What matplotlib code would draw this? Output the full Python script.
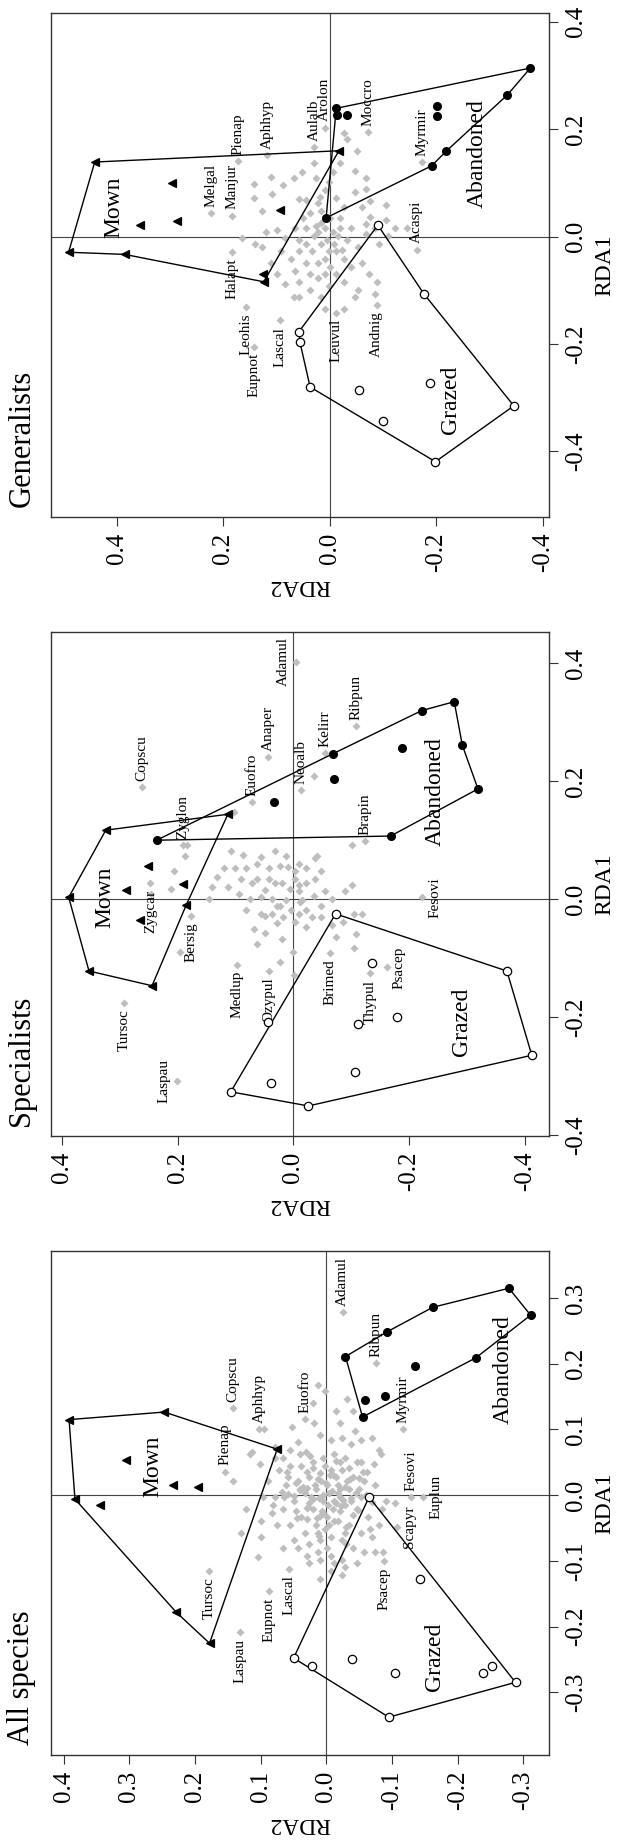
import matplotlib.pyplot as plt
from matplotlib.patches import Polygon

plt.rcParams['font.family'] = ['Liberation Serif', 'DejaVu Serif']
plt.rcParams['axes.unicode_minus'] = False

# ---------------- Generalists ----------------
gen_sp_rda1 = [0.099, 0.072, 0.112, 0.079, 0.096, 0.120, 0.071, 0.109, 0.062, 0.086,
               0.072, 0.055, 0.123, 0.109, 0.159, 0.182, 0.089, 0.067, 0.059, 0.031,
               0.037, 0.016, 0.001, 0.016, 0.016, -0.013, 0.005, -0.020, -0.049, -0.070,
               -0.084, -0.106, -0.099, -0.113, -0.135, -0.135, -0.113, -0.099, -0.084, -0.113,
               -0.088, -0.070, -0.049, -0.020, -0.013, 0.012, -0.002, 0.016, 0.034, 0.044,
               0.048, 0.016, 0.009, 0.016, -0.006, 0.016, -0.013, 0.001, -0.013, -0.027,
               -0.042, -0.049, -0.049, -0.027, -0.027, -0.042, -0.056, -0.070, -0.070, -0.077,
               -0.092, -0.084, -0.070, -0.063, -0.027, 0.009, 0.016, 0.019, -0.013, -0.024,
               -0.042, -0.027, -0.006, 0.073, 0.069, 0.102, -0.002, 0.048, 0.109, 0.137,
               0.120, 0.084, 0.055, 0.193, 0.137, 0.034, 0.026, 0.034, 0.009, -0.006,
               0.001, -0.056, -0.113, 0.023]
gen_sp_rda2 = [0.142, 0.142, 0.110, 0.108, 0.088, 0.053, 0.058, 0.026, 0.022, 0.009,
               -0.012, -0.026, -0.047, -0.067, -0.050, -0.033, -0.067, -0.076, -0.106, -0.106,
               -0.076, -0.085, -0.109, -0.123, -0.144, -0.092, -0.067, -0.053, -0.060, -0.074,
               -0.088, -0.085, -0.053, -0.047, -0.026, 0.009, 0.016, 0.037, 0.058, 0.068,
               0.085, 0.099, 0.110, 0.127, 0.141, 0.099, 0.085, 0.065, 0.051, 0.037,
               0.016, 0.009, -0.005, -0.019, -0.033, -0.040, 0.016, 0.030, 0.044, 0.058,
               0.072, 0.044, 0.023, 0.002, -0.012, -0.026, -0.040, -0.012, 0.009, 0.023,
               0.002, -0.026, 0.037, 0.065, 0.092, 0.120, 0.044, 0.026, -0.008, -0.022,
               0.009, 0.033, 0.058, 0.019, 0.044, 0.002, 0.165, 0.127, 0.068, -0.019,
               -0.005, -0.047, -0.060, -0.026, 0.030, -0.001, 0.016, -0.019, 0.023, 0.006,
               -0.015, -0.001, 0.058, -0.067]

gen_lab_names = ['Pienap', 'Aphhyp', 'Aulalb', 'Arolon', 'Moccro', 'Myrmir', 'Melgal', 'Manjur',
                 'Halapt', 'Leohis', 'Eupnot', 'Lascal', 'Leuvul', 'Andnig', 'Acaspi']
gen_lab_rda1 = [0.141, 0.152, 0.167, 0.203, 0.195, 0.139, 0.044, 0.039,
                -0.029, -0.131, -0.205, -0.156, -0.142, -0.127, -0.024]
gen_lab_rda2 = [0.172, 0.117, 0.030, 0.010, -0.071, -0.172, 0.223, 0.184,
                0.184, 0.157, 0.142, 0.094, -0.012, -0.088, -0.1625]
gen_lab_pos = [4, 4, 4, 4, 4, 4, 4, 4, 2, 2, 2, 2, 2, 2, 4]

# sites; hull vertices come first, in drawing order
gen_mown_rda1 = [0.139, -0.029, -0.033, -0.084, 0.160, -0.069, 0.100, 0.030, 0.021, 0.050]
gen_mown_rda2 = [0.441, 0.490, 0.385, 0.124, -0.017, 0.125, 0.297, 0.287, 0.356, 0.094]
gen_mown_nhull = 5
gen_aban_rda1 = [0.239, 0.314, 0.264, 0.159, 0.132, 0.035, 0.227, 0.227, 0.243, 0.225]
gen_aban_rda2 = [-0.012, -0.376, -0.333, -0.218, -0.191, 0.007, -0.014, -0.033, -0.201, -0.201]
gen_aban_nhull = 6
gen_graz_rda1 = [0.0215, -0.106, -0.315, -0.419, -0.280, -0.197, -0.177, -0.286, -0.343, -0.272]
gen_graz_rda2 = [-0.090, -0.176, -0.345, -0.198, 0.037, 0.056, 0.058, -0.055, -0.099, -0.1875]
gen_graz_nhull = 7

# ---------------- Specialists ----------------
spec_sp_rda1 = [0.081, 0.075, 0.072, 0.081, 0.074, 0.048, 0.034, 0.055, 0.057, 0.053,
                0.060, 0.053, 0.053, 0.053, 0.037, 0.021, 0.021, 0.008, 0.000, 0.003,
                0.016, 0.027, 0.027, 0.018, 0.014, 0.027, 0.034, 0.047, 0.070, 0.074,
                0.024, -0.002, -0.018, -0.012, 0.001, 0.013, 0.024, -0.047, -0.038, -0.031,
                -0.025, -0.025, -0.051, -0.057, -0.067, 0.001, -0.002, -0.012, -0.041, -0.018,
                -0.025, -0.031, -0.031, -0.044, -0.064, -0.038, -0.025, -0.025, -0.060, -0.083,
                0.092, 0.027, 0.034, 0.001, -0.077, -0.106, -0.090, -0.129, 0.148, 0.092,
                0.047, 0.018, 0.073, -0.090, 0.008, 0.209, 0.060, 0.053, 0.034, 0.034,
                -0.012, -0.005, 0.005, 0.014, -0.018, -0.028]
spec_sp_rda2 = [0.108, 0.087, 0.055, 0.032, 0.012, -0.003, -0.003, 0.009, 0.023, 0.042,
                0.062, 0.081, 0.100, 0.119, 0.132, 0.140, 0.113, 0.094, 0.074, 0.055,
                0.049, 0.032, 0.019, 0.005, -0.009, -0.022, -0.038, -0.047, -0.038, -0.041,
                -0.009, -0.015, -0.022, -0.047, -0.067, -0.089, -0.102, -0.022, -0.003, 0.017,
                0.036, 0.055, 0.068, 0.049, 0.020, 0.036, 0.013, 0.023, 0.029, 0.004,
                -0.009, -0.033, -0.047, -0.067, -0.073, -0.086, -0.105, -0.118, -0.108, -0.105,
                -0.102, 0.071, 0.090, 0.145, 0.062, 0.023, 0.001, -0.001, 0.103, 0.183,
                0.206, 0.212, 0.187, 0.196, 0.246, -0.035, -0.009, -0.022, 0.042, 0.062,
                0.029, -0.012, -0.035, -0.054, 0.081, 0.049]

spec_lab_names = ['Adamul', 'Ribpun', 'Kelirr', 'Anaper', 'Neoalb', 'Euofro', 'Copscu', 'Zyglon',
                  'Brapin', 'Zygcar', 'Bersig', 'Tursoc', 'Laspau', 'Medlup', 'Ozypul', 'Brimed',
                  'Thypul', 'Psacep', 'Fesovi']
spec_lab_rda1 = [0.403, 0.294, 0.248, 0.241, 0.185, 0.165, 0.190, 0.091,
                 0.098, 0.027, -0.029, -0.176, -0.308, -0.111, -0.122, -0.091,
                 -0.126, -0.116, 0.003]
spec_lab_rda2 = [-0.0045, -0.109, -0.054, 0.044, -0.013, 0.071, 0.262, 0.191,
                 -0.124, 0.247, 0.176, 0.292, 0.201, 0.097, 0.042, -0.063,
                 -0.133, -0.161, -0.222]
spec_lab_pos = [3, 4, 4, 4, 4, 4, 4, 4, 4, 2, 2, 2, 3, 2, 2, 2, 2, 1, 1]

spec_mown_rda1 = [0.117, 0.003, -0.122, -0.147, -0.010, 0.144, 0.057, 0.016, 0.025, -0.036]
spec_mown_rda2 = [0.324, 0.388, 0.353, 0.244, 0.185, 0.113, 0.251, 0.289, 0.190, 0.265]
spec_mown_nhull = 6
spec_aban_rda1 = [0.100, 0.247, 0.320, 0.335, 0.261, 0.187, 0.107, 0.203, 0.257, 0.164]
spec_aban_rda2 = [0.236, -0.069, -0.222, -0.278, -0.292, -0.319, -0.168, -0.071, -0.188, 0.033]
spec_aban_nhull = 7
spec_graz_rda1 = [-0.025, -0.122, -0.265, -0.351, -0.327, -0.312, -0.109, -0.200, -0.212, -0.293, -0.208]
spec_graz_rda2 = [-0.073, -0.369, -0.412, -0.026, 0.108, 0.039, -0.136, -0.179, -0.112, -0.107, 0.044]
spec_graz_nhull = 5

# ---------------- All species ----------------
all_sp_rda1 = [0.167, 0.140, 0.128, 0.146, 0.128, 0.103, 0.101, 0.066, 0.048, 0.073,
               0.057, 0.081, 0.066, 0.092, 0.084, 0.087, 0.078, 0.084, 0.069, 0.063,
               0.048, 0.051, 0.057, 0.063, 0.057, 0.051, 0.045, 0.045, 0.039, 0.021,
               -0.003, -0.003, 0.015, 0.021, 0.027, 0.033, 0.039, 0.039, 0.027, 0.021,
               0.015, -0.003, -0.003, 0.009, 0.015, 0.015, 0.009, 0.003, -0.009, -0.021,
               -0.027, -0.039, -0.045, -0.045, -0.033, -0.021, -0.009, -0.009, -0.015, -0.021,
               -0.033, -0.045, -0.063, -0.057, -0.045, -0.039, -0.033, -0.045, -0.057, -0.069,
               -0.081, -0.081, -0.075, -0.069, -0.063, -0.069, -0.081, -0.087, -0.087, -0.104,
               -0.098, -0.092, -0.098, -0.104, -0.116, -0.122, -0.128, -0.063, -0.094, 0.063,
               0.069, 0.110, 0.110, 0.051, -0.009, -0.012, 0.087, 0.098, 0.036, 0.024,
               0.003, -0.003, -0.021, -0.024, -0.003, 0.009, 0.027, 0.063, 0.045, 0.027,
               0.021, 0.009, -0.009, -0.024, -0.045, -0.057, -0.036, -0.024, -0.003, -0.015,
               -0.087, -0.092, -0.057, -0.104, -0.110, -0.081, -0.021, -0.087, -0.051, 0.057,
               -0.021, -0.057, 0.158, 0.042, 0.021,
               0.000, 0.006, -0.004, -0.015, 0.016, 0.004, 0.021, -0.008, -0.012, 0.030,
               0.012, -0.030, -0.035, 0.035, 0.035, 0.050, -0.035, 0.000, 0.005, -0.075,
               0.010, -0.006, 0.024, -0.020, 0.003, -0.027, 0.018, -0.012, 0.030, -0.040,
               0.042, -0.048, 0.008, -0.002, 0.013, -0.018, 0.026, -0.031, 0.036, -0.052,
               0.052, -0.062, 0.060, -0.010, 0.002, -0.023, 0.019, -0.005, 0.011, -0.016]
all_sp_rda2 = [0.013, 0.021, -0.014, -0.032, -0.041, 0.052, 0.095, 0.113, 0.101, 0.078,
               0.066, 0.044, 0.031, 0.010, -0.007, -0.024, -0.038, -0.052, -0.080, -0.083,
               -0.072, -0.046, -0.029, -0.012, 0.005, 0.021, 0.038, 0.055, 0.072, 0.089,
               0.097, 0.078, 0.061, 0.044, 0.027, 0.010, -0.007, -0.024, -0.041, -0.057,
               -0.074, -0.066, -0.052, -0.035, -0.018, -0.001, 0.016, 0.033, 0.050, 0.066,
               0.083, 0.100, 0.075, 0.055, 0.038, 0.021, 0.005, -0.012, -0.029, -0.046,
               -0.063, -0.080, -0.069, -0.052, -0.035, -0.018, -0.001, 0.016, 0.033, 0.050,
               0.066, 0.044, 0.027, 0.010, -0.007, -0.024, -0.041, -0.057, -0.074, -0.046,
               -0.024, -0.007, 0.010, 0.027, -0.007, -0.024, 0.010, 0.100, 0.104, 0.117,
               0.055, 0.019, -0.021, -0.052, -0.091, -0.105, -0.069, -0.043, 0.030, 0.013,
               -0.004, -0.021, -0.010, 0.007, 0.024, 0.041, 0.058, 0.041, 0.002, -0.015,
               -0.032, -0.049, -0.038, -0.021, -0.004, 0.013, 0.030, 0.047, 0.064, 0.081,
               0.013, 0.030, -0.029, -0.012, -0.029, -0.001, -0.084, -0.086, -0.066, 0.078,
               0.123, 0.130, 0.002, -0.035, 0.142,
               0.005, -0.008, 0.012, -0.003, 0.018, -0.017, 0.008, -0.026, 0.026, -0.010,
               0.035, -0.040, 0.045, -0.055, 0.060, -0.020, 0.015, -0.060, 0.068, -0.030,
               -0.020, 0.020, -0.036, 0.030, -0.045, 0.005, 0.000, -0.015, -0.005, -0.012,
               0.020, -0.030, 0.040, 0.050, -0.028, 0.028, -0.050, 0.010, -0.062, 0.002,
               -0.015, 0.012, 0.025, -0.070, 0.058, -0.048, 0.046, -0.038, 0.030, -0.022]

all_lab_names = ['Adamul', 'Ribpun', 'Myrmir', 'Copscu', 'Aphhyp', 'Euofro', 'Pienap', 'Tursoc',
                 'Laspau', 'Eupnot', 'Lascal', 'Psacep', 'Scapyr', 'Fesovi', 'Euplun']
all_lab_rda1 = [0.279, 0.201, 0.101, 0.133, 0.101, 0.116, 0.036, -0.116,
                -0.209, -0.146, -0.113, -0.101, -0.048, -0.003, -0.003]
all_lab_rda2 = [-0.025, -0.0755, -0.1165, 0.1425, 0.102, 0.033, 0.155, 0.179,
                0.132, 0.088, 0.057, -0.088, -0.107, -0.1295, -0.1475]
all_lab_pos = [4, 4, 4, 4, 4, 4, 4, 2, 2, 2, 2, 2, 1, 4, 1]

all_mown_rda1 = [0.115, 0.1265, 0.070, -0.2255, -0.178, -0.006, 0.054, 0.015, 0.012, -0.015]
all_mown_rda2 = [0.392, 0.247, 0.075, 0.178, 0.229, 0.383, 0.306, 0.233, 0.195, 0.345]
all_mown_nhull = 6
all_aban_rda1 = [0.211, 0.249, 0.286, 0.315, 0.274, 0.209, 0.119, 0.197, 0.151, 0.145]
all_aban_rda2 = [-0.029, -0.093, -0.162, -0.278, -0.311, -0.2275, -0.055, -0.135, -0.0895, -0.058]
all_aban_nhull = 7
all_graz_rda1 = [-0.003, -0.285, -0.338, -0.248, -0.260, -0.249, -0.2715, -0.128, -0.2715, -0.2595]
all_graz_rda2 = [-0.065, -0.288, -0.095, 0.050, 0.0225, -0.039, -0.105, -0.142, -0.238, -0.252]
all_graz_nhull = 4

group_names = ['Mown', 'Abandoned', 'Grazed']
gen_group_xy = [(0.055, 0.406), (0.154, -0.276), (-0.303, -0.227)]
spec_group_xy = [(0.003, 0.326), (0.182, -0.245), (-0.208, -0.291)]
all_group_xy = [(0.044, 0.265), (0.191, -0.269), (-0.246, -0.164)]

GREY = '#bebebe'
FRAME = '#333333'
W, H = 619, 1841


def label_species(ax, names, rda1, rda2, pos):
    # R text(pos=) placement, turned a quarter to the left
    off = 4.5
    place = {1: ((off, 0), 'left', 'center'),
             2: ((0, -off), 'center', 'top'),
             3: ((-off, 0), 'right', 'center'),
             4: ((0, off), 'center', 'bottom')}
    for name, r1, r2, p in zip(names, rda1, rda2, pos):
        xytext, ha, va = place[p]
        ax.annotate(name, (r2, r1), xytext=xytext, textcoords='offset points',
                    rotation=90, ha=ha, va=va, fontsize=11)


def draw_panel(top, title, sp1, sp2, labels, groups, group_xy, xlim, ylim, xticks, yticks):
    box_h = 504
    ax = fig.add_axes([51 / W, (H - top - box_h) / H, 498 / W, box_h / H])
    ax.axhline(0, color='#444444', lw=0.8, zorder=1)
    ax.axvline(0, color='#444444', lw=0.8, zorder=1)

    names, l1, l2, lpos = labels
    ax.plot(list(sp2) + list(l2), list(sp1) + list(l1), 'D', ms=3.8, color=GREY,
            mec='none', zorder=2)
    label_species(ax, names, l1, l2, lpos)

    for (g1, g2, nh), (marker, face, ms) in zip(groups, [('<', 'black', 6.0),
                                                        ('o', 'black', 5.6),
                                                        ('o', 'white', 6.0)]):
        ring = list(zip(g2[:nh], g1[:nh]))
        ax.add_patch(Polygon(ring, closed=True, fill=False, ec='black', lw=1.0, zorder=3))
        ax.plot(g2, g1, marker, ms=ms, mfc=face, mec='black', mew=0.9, ls='none', zorder=4)

    for name, (r1, r2) in zip(group_names, group_xy):
        ax.text(r2, r1, name, rotation=90, ha='center', va='center', fontsize=17)

    ax.set_xlim(xlim)
    ax.set_ylim(ylim)
    ax.set_xticks(xticks)
    ax.set_xticklabels(['%.1f' % t for t in xticks])
    ax.yaxis.tick_right()
    ax.set_yticks(yticks)
    ax.set_yticklabels(['%.1f' % t for t in yticks])
    ax.tick_params(axis='x', direction='out', length=6.5, width=0.8, pad=5,
                   labelsize=18, labelrotation=90, color=FRAME)
    ax.tick_params(axis='y', direction='out', length=6.5, width=0.8, pad=5,
                   labelsize=18, labelrotation=90, color=FRAME)
    for lbl in ax.get_yticklabels():
        lbl.set_va('center')
    for sp in ax.spines.values():
        sp.set_color(FRAME)
        sp.set_linewidth(1.0)

    ax.annotate('RDA2', (0.5, 0), xycoords='axes fraction', xytext=(0, -49),
                textcoords='offset points', rotation=180, ha='center', va='center',
                fontsize=17)
    ax.annotate('RDA1', (1, 0.5), xycoords='axes fraction', xytext=(40, 0),
                textcoords='offset points', rotation=90, ha='center', va='center',
                fontsize=17)
    fig.text(22 / W, (H - (top + box_h - 10)) / H, title, rotation=90,
             ha='center', va='bottom', fontsize=22)
    return ax


fig = plt.figure(figsize=(W / 100, H / 100), dpi=100)

ticks_wide = [0.4, 0.2, 0.0, -0.2, -0.4]

draw_panel(13, 'Generalists', gen_sp_rda1, gen_sp_rda2,
           (gen_lab_names, gen_lab_rda1, gen_lab_rda2, gen_lab_pos),
           [(gen_mown_rda1, gen_mown_rda2, gen_mown_nhull),
            (gen_aban_rda1, gen_aban_rda2, gen_aban_nhull),
            (gen_graz_rda1, gen_graz_rda2, gen_graz_nhull)],
           gen_group_xy, (0.523, -0.411), (-0.522, 0.4165), ticks_wide, ticks_wide)

draw_panel(632, 'Specialists', spec_sp_rda1, spec_sp_rda2,
           (spec_lab_names, spec_lab_rda1, spec_lab_rda2, spec_lab_pos),
           [(spec_mown_rda1, spec_mown_rda2, spec_mown_nhull),
            (spec_aban_rda1, spec_aban_rda2, spec_aban_nhull),
            (spec_graz_rda1, spec_graz_rda2, spec_graz_nhull)],
           spec_group_xy, (0.4186, -0.4417), (-0.402, 0.4533), ticks_wide, ticks_wide)

draw_panel(1251, 'All species', all_sp_rda1, all_sp_rda2,
           (all_lab_names, all_lab_rda1, all_lab_rda2, all_lab_pos),
           [(all_mown_rda1, all_mown_rda2, all_mown_nhull),
            (all_aban_rda1, all_aban_rda2, all_aban_nhull),
            (all_graz_rda1, all_graz_rda2, all_graz_nhull)],
           all_group_xy, (0.4195, -0.339), (-0.3956, 0.3717),
           [0.4, 0.3, 0.2, 0.1, 0.0, -0.1, -0.2, -0.3],
           [-0.3, -0.2, -0.1, 0.0, 0.1, 0.2, 0.3])

fig.savefig('out.png', dpi=100)
